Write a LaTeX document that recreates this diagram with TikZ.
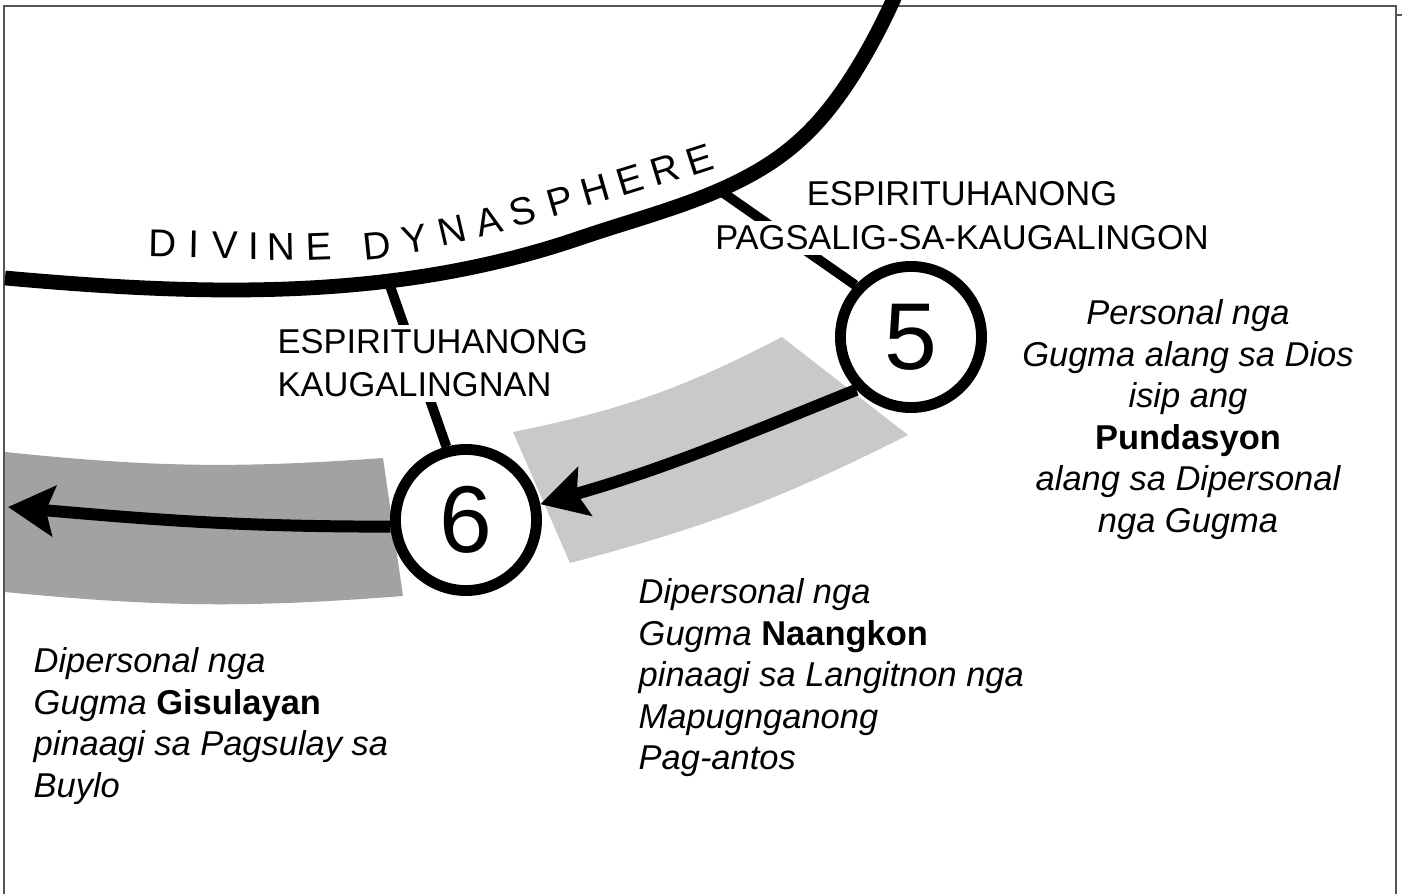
\documentclass[tikz,border=0pt]{standalone}
\usepackage{fontspec}
\setmainfont{Liberation Sans}
\usepackage{tikz}
\usetikzlibrary{arrows.meta}

\definecolor{bandlight}{HTML}{C9C9C9}
\definecolor{banddark}{HTML}{A2A2A2}
\definecolor{framegray}{HTML}{555555}

\begin{document}
\begin{tikzpicture}[x=0.01cm,y=0.01cm,
	stage/.style={circle,draw,fill=white,line width=3.1pt,minimum size=1.41cm,inner sep=0pt,font=\fontsize{27}{27}\selectfont},
	tie/.style={line width=2.8pt},
	flow/.style={line width=3.4pt,-{Stealth[length=0.46cm,width=0.5cm,inset=0.08cm]}},
	capslabel/.style={fill=white,inner sep=0.05cm,font=\fontsize{9.8}{12.2}\selectfont},
	note/.style={inner sep=0pt,font=\fontsize{9.8}{11.8}\selectfont\itshape},
	arcletter/.style={inner sep=0pt,font=\fontsize{11}{11}\selectfont}]
	\useasboundingbox (0,0) rectangle (1402,-894);
	% Frame
	\draw[framegray,line width=0.7pt] (4,-6) rectangle (1396,-910);
	\draw[framegray,line width=0.6pt] (1396,-15) -- (1402,-15);
	% Bands
	\fill[bandlight] (513,-432) to[bend right=8] (782,-337) -- (908,-435) to[bend left=6] (570,-563) -- cycle;
	\fill[banddark] (5,-452) to[bend right=5] (383,-458) -- (403,-596) to[bend left=5] (5,-592) -- cycle;
	% The big arc
	\draw[line width=4.2pt] (5,-278) .. controls (195,-295) and (390,-303) .. (580,-238)
		.. controls (656,-212) and (741,-194) .. (800,-140)
		.. controls (845,-100) and (880,-31) .. (900,15);
	\foreach \ch/\x/\y/\r [count=\i] in {D/163/243/-1, I/194/244/-1, V/225/245/0, I/254/246/0, N/281/247/1, E/319/247/2,
		D/377/246/6, Y/415/239/10, N/452/230/13, A/489/221/14, S/523/211/15, P/560/201/16, H/595/190/16, E/630/180/17, R/665/170/17, E/700/160/18}
		\node[arcletter,rotate=\r] (l\i) at (\x,-\y) {\ch};
	% Stages
	\node[stage] (n5) at (911,-337) {5};
	\node[stage] (n6) at (466,-520) {6};
	% Ties to the arc
	\coordinate (a5) at (722,-192);
	\coordinate (a6) at (389,-283);
	\draw[tie] (a5) -- (n5.137);
	\draw[tie] (a6) -- (n6.105);
	% Arrows
	\coordinate (tipL) at (8,-507);
	\draw[flow] (n5.224) to[out=202,in=16] (n6.12);
	\draw[flow] (n6.185) to[out=180,in=-5] (tipL);
	% Labels
	\node[capslabel,anchor=north west,align=left] (own) at (272,-324) {ESPIRITUHANONG\\KAUGALINGNAN};
	\node[capslabel] (trustA) at (962,-194) {ESPIRITUHANONG};
	\node[capslabel] (trustB) at (962,-238) {PAGSALIG-SA-KAUGALINGON};
	\node[note,anchor=north,align=center] (found) at (1188,-299) {Personal nga\\Gugma alang sa Dios\\isip ang\\{\upshape\bfseries Pundasyon}\\alang sa Dipersonal\\nga Gugma};
	\node[note,anchor=north west,align=left] (gained) at (638,-578) {Dipersonal nga\\Gugma {\upshape\bfseries Naangkon}\\pinaagi sa Langitnon nga\\Mapugnganong\\Pag-antos};
	\node[note,anchor=north west,align=left] (tested) at (33,-647) {Dipersonal nga\\Gugma {\upshape\bfseries Gisulayan}\\pinaagi sa Pagsulay sa\\Buylo};
\end{tikzpicture}
\end{document}
